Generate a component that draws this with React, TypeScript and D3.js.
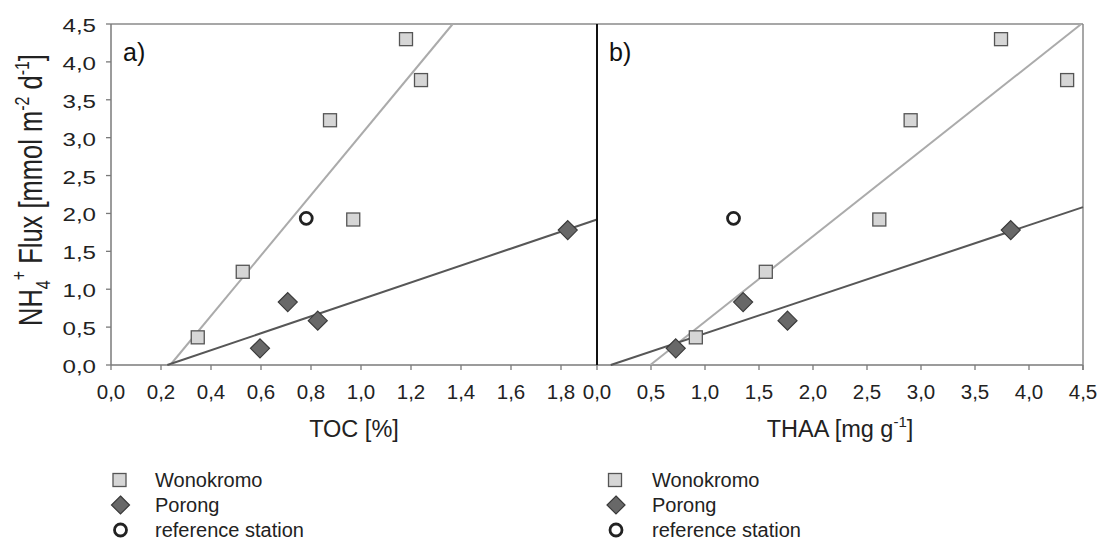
import React from "react";
import * as d3 from "d3";

// ---- data ----
const fluxWonokromo = [0.365, 1.23, 3.23, 1.92, 4.3, 3.76];
const tocWonokromo = [0.347, 0.527, 0.876, 0.969, 1.18, 1.24];
const thaaWonokromo = [0.915, 1.563, 2.904, 2.614, 3.741, 4.353];

const fluxPorong = [0.22, 0.83, 0.585, 1.78];
const tocPorong = [0.596, 0.707, 0.827, 1.827];
const thaaPorong = [0.729, 1.353, 1.764, 3.831];

const fluxReference = [1.935];
const tocReference = [0.781];
const thaaReference = [1.264];

const yTicks = [0, 0.5, 1, 1.5, 2, 2.5, 3, 3.5, 4, 4.5];
const tocTicks = [0, 0.2, 0.4, 0.6, 0.8, 1.0, 1.2, 1.4, 1.6, 1.8];
const thaaTicks = [0, 0.5, 1, 1.5, 2, 2.5, 3, 3.5, 4, 4.5];
const legendLabels = ["Wonokromo", "Porong", "reference station"];

const fmt = (v: number) => v.toFixed(1).replace(".", ",");
const FONT = "Liberation Sans, Arial, sans-serif";

function regress(xs: number[], ys: number[]) {
  const mx = d3.mean(xs)!;
  const my = d3.mean(ys)!;
  let sxy = 0, sxx = 0;
  xs.forEach((x, i) => {
    sxy += (x - mx) * (ys[i] - my);
    sxx += (x - mx) * (x - mx);
  });
  const slope = sxy / sxx;
  return { slope, intercept: my - slope * mx };
}

const top = 24, bottom = 365;
const y = d3.scaleLinear().domain([0, 4.5]).range([bottom, top]);

function Square({ cx, cy, s = 13 }: { cx: number; cy: number; s?: number }) {
  return <rect x={cx - s / 2} y={cy - s / 2} width={s} height={s} fill="#d6d6d6" stroke="#555" strokeWidth={1.3} />;
}
function Diamond({ cx, cy, r = 9.5 }: { cx: number; cy: number; r?: number }) {
  return (
    <path d={`M${cx},${cy - r}L${cx + r},${cy}L${cx},${cy + r}L${cx - r},${cy}Z`} fill="#686868" stroke="#3a3a3a" strokeWidth={1.2} />
  );
}
function Ring({ cx, cy, r = 6 }: { cx: number; cy: number; r?: number }) {
  return <circle cx={cx} cy={cy} r={r} fill="#fff" stroke="#222" strokeWidth={2.8} />;
}

function Panel({
  x0, x1, xMax, ticks, xw, xp, xr, label, title, titleSup, rightBorder,
}: {
  x0: number; x1: number; xMax: number; ticks: number[];
  xw: number[]; xp: number[]; xr: number[]; label: string; title: string; titleSup?: string; rightBorder?: boolean;
}) {
  const x = d3.scaleLinear().domain([0, xMax]).range([x0, x1]);
  const lw = regress(xw, fluxWonokromo);
  const lp = regress(xp, fluxPorong);
  const lineSeg = (l: { slope: number; intercept: number }) => {
    const xa = -l.intercept / l.slope;
    let xb = xMax;
    if (l.slope * xb + l.intercept > 4.5) xb = (4.5 - l.intercept) / l.slope;
    const gen = d3.line<number>().x((v) => x(v)).y((v) => y(l.slope * v + l.intercept));
    return gen([xa, xb])!;
  };
  const cx = (x0 + x1) / 2;
  return (
    <g>
      {/* axis lines */}
      <line x1={x0} x2={x1} y1={bottom} y2={bottom} stroke="#7a7a7a" strokeWidth={1.5} />
      <line x1={x0} x2={x1} y1={top} y2={top} stroke="#8a8a8a" strokeWidth={1.5} />
      {rightBorder && <line x1={x1} x2={x1} y1={top} y2={bottom} stroke="#8a8a8a" strokeWidth={1.5} />}
      {ticks.map((t) => (
        <g key={t}>
          <line x1={x(t)} x2={x(t)} y1={bottom} y2={bottom + 5} stroke="#7a7a7a" strokeWidth={1.3} />
          <text x={x(t)} y={399} textAnchor="middle" fontSize={20.5} fontFamily={FONT} fill="#222">
            {fmt(t)}
          </text>
        </g>
      ))}
      {rightBorder && <line x1={x1} x2={x1} y1={bottom} y2={bottom + 5} stroke="#7a7a7a" strokeWidth={1.3} />}
      <text x={cx} y={437} textAnchor="middle" fontSize={23.5} fontFamily={FONT} fill="#222">
        {title}
        {titleSup && <tspan dy={-10} fontSize={15}>{titleSup}</tspan>}
        {titleSup && <tspan dy={10}>]</tspan>}
      </text>
      <text x={x0 + 12} y={61} fontSize={25} fontFamily={FONT} fill="#111">{label}</text>
      {/* regression lines */}
      <path d={lineSeg(lw)} stroke="#ababab" strokeWidth={2} fill="none" />
      <path d={lineSeg(lp)} stroke="#575757" strokeWidth={2} fill="none" />
      {xw.map((v, i) => <Square key={"w" + i} cx={x(v)} cy={y(fluxWonokromo[i])} />)}
      {xp.map((v, i) => <Diamond key={"p" + i} cx={x(v)} cy={y(fluxPorong[i])} />)}
      {xr.map((v, i) => <Ring key={"r" + i} cx={x(v)} cy={y(fluxReference[i])} />)}
    </g>
  );
}

function Legend({ mx, tx }: { mx: number; tx: number }) {
  const rows = [480, 505, 530];
  return (
    <g>
      <Square cx={mx} cy={rows[0]} s={13} />
      <Diamond cx={mx + 1} cy={rows[1]} r={9} />
      <Ring cx={mx + 1} cy={rows[2]} r={6} />
      {legendLabels.map((l, i) => (
        <text key={l} x={tx} y={rows[i] + 7} fontSize={20} fontFamily={FONT} fill="#222">{l}</text>
      ))}
    </g>
  );
}

export default function App() {
  const leftX0 = 111, mid = 597, rightX1 = 1083;
  return (
    <svg width={1100} height={541} style={{ position: "absolute", left: 0, top: 0, background: "#fff" }}>
      <rect width={1100} height={541} fill="#fff" />
      <Panel x0={leftX0} x1={mid} xMax={1.944} ticks={tocTicks} xw={tocWonokromo} xp={tocPorong} xr={tocReference}
        label="a)" title="TOC [%]" />
      <Panel x0={mid} x1={rightX1} xMax={4.5} ticks={thaaTicks} xw={thaaWonokromo} xp={thaaPorong} xr={thaaReference}
        label="b)" title="THAA [mg g" titleSup="-1" rightBorder />
      {/* left y axis */}
      <line x1={leftX0} x2={leftX0} y1={top} y2={bottom} stroke="#7a7a7a" strokeWidth={1.5} />
      {yTicks.map((t) => (
        <g key={t}>
          <line x1={leftX0 - 5} x2={leftX0} y1={y(t)} y2={y(t)} stroke="#7a7a7a" strokeWidth={1.3} />
          <text x={96} y={y(t) + 8} textAnchor="end" fontSize={19} fontFamily={FONT} fill="#222"
            transform={`translate(96,0) scale(1.27,1) translate(-96,0)`}>
            {fmt(t)}
          </text>
        </g>
      ))}
      {/* middle divider */}
      <line x1={mid} x2={mid} y1={top} y2={bottom} stroke="#111" strokeWidth={2} />
      {/* y title */}
      <g transform="translate(42,190) rotate(-90) scale(1,1.3)">
        <text x={0} y={0} textAnchor="middle" fontSize={25.5} fontFamily={FONT} fill="#222">
          NH<tspan dy={6} fontSize={16}>4</tspan>
          <tspan dy={-18} fontSize={16}>+</tspan>
          <tspan dy={12}> Flux [mmol m</tspan>
          <tspan dy={-10} fontSize={16}>-2</tspan>
          <tspan dy={10}> d</tspan>
          <tspan dy={-10} fontSize={16}>-1</tspan>
          <tspan dy={10}>]</tspan>
        </text>
      </g>
      <Legend mx={119.5} tx={155} />
      <Legend mx={615} tx={652} />
    </svg>
  );
}
